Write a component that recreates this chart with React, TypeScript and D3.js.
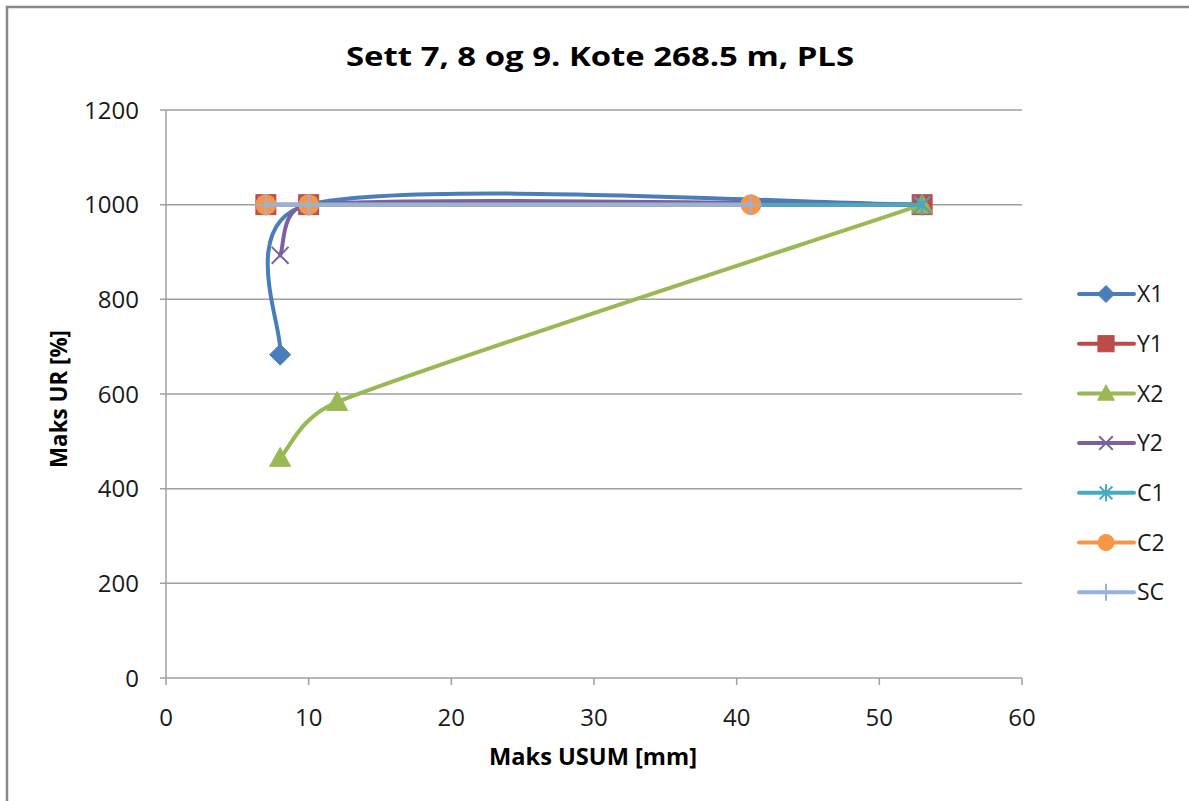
import React from "react";
import * as d3 from "d3";

const seriesNames = ["X1", "Y1", "X2", "Y2", "C1", "C2", "SC"];
const seriesColors = ["#4A7EBB", "#BE4B48", "#98B954", "#7D60A0", "#46AAC5", "#F79646", "#97B3D8"];
const seriesMarkers = ["diamond", "square", "triangle", "x", "asterisk", "circle", "plus"];
const x1Data: [number, number][] = [[8, 683], [10, 1000], [53, 1000]];
const y1Data: [number, number][] = [[7, 1000], [10, 1000], [53, 1000]];
const x2Data: [number, number][] = [[8, 465], [12, 583], [53, 1000]];
const y2Data: [number, number][] = [[8, 893], [10, 1000], [53, 1000]];
const c1Data: [number, number][] = [[7, 1000], [10, 1000], [53, 1000]];
const c2Data: [number, number][] = [[7, 1000], [10, 1000], [41, 1000]];
const scData: [number, number][] = [[7, 1000], [10, 1000], [41, 1000]];
const allData = [x1Data, y1Data, x2Data, y2Data, c1Data, c2Data, scData];
const xTicks = [0, 10, 20, 30, 40, 50, 60];
const yTicks = [0, 200, 400, 600, 800, 1000, 1200];
const titleText = "Sett 7, 8 og 9. Kote 268.5 m, PLS";
const xTitle = "Maks USUM [mm]";
const yTitle = "Maks UR [%]";

const FONT = "'Open Sans', 'DejaVu Sans', sans-serif";

// Excel-like smoothed line: Catmull-Rom (1/6) tangents, control arms limited to half the segment
function smoothPath(pts: [number, number][]): string {
  const p = d3.path();
  if (!pts.length) return "";
  p.moveTo(pts[0][0], pts[0][1]);
  const n = pts.length;
  const clamp = (v: [number, number], maxLen: number): [number, number] => {
    const len = Math.hypot(v[0], v[1]);
    if (len > maxLen && len > 0) return [(v[0] * maxLen) / len, (v[1] * maxLen) / len];
    return v;
  };
  for (let i = 0; i < n - 1; i++) {
    const p0 = pts[i - 1] ?? pts[i];
    const p1 = pts[i];
    const p2 = pts[i + 1];
    const p3 = pts[i + 2] ?? pts[i + 1];
    const seg = Math.hypot(p2[0] - p1[0], p2[1] - p1[1]);
    const t1 = clamp([(p2[0] - p0[0]) / 6, (p2[1] - p0[1]) / 6], seg / 2);
    const t2 = clamp([(p3[0] - p1[0]) / 6, (p3[1] - p1[1]) / 6], seg / 2);
    p.bezierCurveTo(p1[0] + t1[0], p1[1] + t1[1], p2[0] - t2[0], p2[1] - t2[1], p2[0], p2[1]);
  }
  return p.toString();
}

function Marker({ type, x, y, color, s }: { type: string; x: number; y: number; color: string; s: number }) {
  const h = s / 2;
  switch (type) {
    case "diamond":
      return <path d={`M${x},${y - h}L${x + h},${y}L${x},${y + h}L${x - h},${y}Z`} fill={color} stroke={color} strokeWidth={1} />;
    case "square":
      return <rect x={x - h * 0.95} y={y - h * 0.95} width={h * 1.9} height={h * 1.9} fill={color} stroke={color} strokeWidth={1} />;
    case "triangle":
      return <path d={`M${x},${y - h}L${x + h},${y + h * 0.8}L${x - h},${y + h * 0.8}Z`} fill={color} stroke={color} strokeWidth={1} />;
    case "circle":
      return <circle cx={x} cy={y} r={h * 0.95} fill={color} stroke={color} strokeWidth={1} />;
    case "x":
      return <path d={`M${x - h * 0.8},${y - h * 0.8}L${x + h * 0.8},${y + h * 0.8}M${x - h * 0.8},${y + h * 0.8}L${x + h * 0.8},${y - h * 0.8}`} stroke={color} strokeWidth={2} fill="none" />;
    case "asterisk":
      return <path d={`M${x - h * 0.75},${y - h * 0.75}L${x + h * 0.75},${y + h * 0.75}M${x - h * 0.75},${y + h * 0.75}L${x + h * 0.75},${y - h * 0.75}M${x},${y - h}L${x},${y + h}`} stroke={color} strokeWidth={2} fill="none" />;
    case "plus":
      return <path d={`M${x - h},${y}L${x + h},${y}M${x},${y - h}L${x},${y + h}`} stroke={color} strokeWidth={2} fill="none" />;
  }
  return null;
}

export default function App() {
  const W = 1189, H = 801;
  const left = 166, right = 1022, top = 110, bottom = 678;
  const x = d3.scaleLinear().domain([0, 60]).range([left, right]);
  const y = d3.scaleLinear().domain([0, 1200]).range([bottom, top]);

  const legendY0 = 294, legendStep = 49.7;

  return (
    <svg width={W} height={H} style={{ position: "absolute", left: 0, top: 0 }} fontFamily={FONT}>
      <rect x={0} y={0} width={W} height={H} fill="#fff" />
      <path d={`M7,${H}L7,7L${W},7`} fill="none" stroke="#878787" strokeWidth={2.5} />
      <text x={600} y={66} textAnchor="middle" fontSize={27} fontWeight="bold" fill="#000" textLength={508} lengthAdjust="spacingAndGlyphs">{titleText}</text>
      {yTicks.map((t) => (
        <g key={"y" + t}>
          <line x1={left - 6} x2={right} y1={y(t)} y2={y(t)} stroke="#9f9f9f" strokeWidth={1.5} />
          <text x={139} y={y(t)} dy="0.36em" textAnchor="end" fontSize={24} fill="#1a1a1a">{t}</text>
        </g>
      ))}
      <line x1={left} x2={left} y1={top} y2={bottom} stroke="#9f9f9f" strokeWidth={1.5} />
      {xTicks.map((t) => (
        <g key={"x" + t}>
          <line x1={x(t)} x2={x(t)} y1={bottom} y2={bottom + 7} stroke="#9f9f9f" strokeWidth={1.5} />
          <text x={x(t)} y={717} dy="0.36em" textAnchor="middle" fontSize={24} fill="#1a1a1a">{t}</text>
        </g>
      ))}
      <text x={593} y={757} dy="0.36em" textAnchor="middle" fontSize={23} fontWeight="bold" fill="#000" textLength={208} lengthAdjust="spacingAndGlyphs">{xTitle}</text>
      <text transform={`translate(59,399) rotate(-90)`} dy="0.36em" textAnchor="middle" fontSize={23} fontWeight="bold" fill="#000" textLength={138} lengthAdjust="spacingAndGlyphs">{yTitle}</text>
      {allData.map((data, i) => (
        <g key={"s" + i}>
          <path d={smoothPath(data.map((d) => [x(d[0]), y(d[1])] as [number, number]))} fill="none" stroke={seriesColors[i]} strokeWidth={4} strokeLinecap="round" />
          {data.map((d, j) => (
            <Marker key={j} type={seriesMarkers[i]} x={x(d[0])} y={y(d[1])} color={seriesColors[i]} s={21} />
          ))}
        </g>
      ))}
      {seriesNames.map((n, i) => {
        const ly = legendY0 + i * legendStep;
        return (
          <g key={"l" + n}>
            <line x1={1079} x2={1134} y1={ly} y2={ly} stroke={seriesColors[i]} strokeWidth={4} strokeLinecap="round" />
            <Marker type={seriesMarkers[i]} x={1106} y={ly} color={seriesColors[i]} s={17} />
            <text x={1137} y={ly} dy="0.36em" fontSize={23} fill="#1a1a1a">{n}</text>
          </g>
        );
      })}
    </svg>
  );
}
